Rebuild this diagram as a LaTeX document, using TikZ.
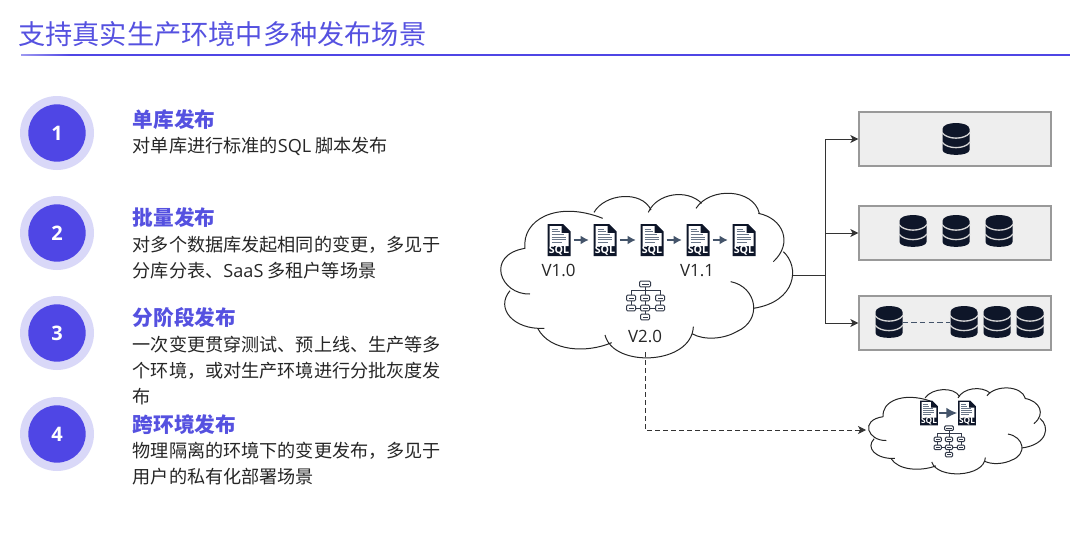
\documentclass[tikz,border=0pt]{standalone}
\usepackage{fontspec}
\usetikzlibrary{arrows.meta}
\setmainfont{Noto Sans CJK SC}
\newfontfamily\lat{Open Sans}
\definecolor{indigo}{HTML}{4F46E5}
\definecolor{halo}{HTML}{D9D8F8}
\definecolor{titlec}{HTML}{5551E0}
\definecolor{bodyc}{HTML}{262626}
\definecolor{navy}{HTML}{0E1629}
\definecolor{slate}{HTML}{44546A}
\definecolor{boxfill}{HTML}{EEEEEE}
\definecolor{boxline}{HTML}{999999}
\definecolor{conn}{HTML}{333333}
\newcommand{\cloudshape}{%
  \draw[cloudline]
    (105,205) .. controls (95,120) and (200,60) .. (338,115)
    (312,97) .. controls (345,40) and (455,30) .. (483,90)
    (475,97) .. controls (500,40) and (590,25) .. (635,70)
    (618,85) .. controls (660,20) and (790,25) .. (808,100)
    (805,100) .. controls (880,115) and (910,190) .. (850,245)
    (880,215) .. controls (930,260) and (920,365) .. (790,385)
    (722,305) .. controls (800,320) and (820,420) .. (740,455)
    (745,452) .. controls (700,480) and (640,480) .. (608,462)
    (610,440) .. controls (605,555) and (370,565) .. (345,465)
    (365,488) .. controls (290,520) and (180,515) .. (143,445)
    (163,445) .. controls (70,450) and (15,385) .. (60,332)
    (120,342) .. controls (30,345) and (-15,225) .. (105,205);
}
\tikzset{
  x=0.75pt,y=-0.75pt,
  cloudline/.style={draw=black!85,line width=0.75pt},
  halodot/.style={circle,fill=halo,minimum size=55.5pt,inner sep=0},
  numdot/.style={circle,fill=indigo,minimum size=43pt,inner sep=0,text=white,font=\lat\bfseries\fontsize{15}{17}\selectfont},
  headtext/.style={anchor=west,inner sep=0,text=titlec,font=\bfseries\fontsize{15.5}{18}\selectfont},
  bodytext/.style={anchor=north west,inner sep=0,text=bodyc,align=left,font=\fontsize{13.6}{19.5}\selectfont},
  vlabel/.style={inner sep=0,text=black!85,font=\lat\fontsize{12.7}{14}\selectfont},
  dbbox/.style={draw=boxline,fill=boxfill,line width=1pt,minimum width=144pt,minimum height=40.5pt,inner sep=0},
  iconslot/.style={inner sep=0,minimum width=17pt,minimum height=24pt},
  miniicon/.style={inner sep=0,minimum width=13.5pt,minimum height=19pt},
  tree/.style={conn,line width=0.75pt,-{Stealth[inset=1.6pt,length=6pt,width=6pt]}},
  verstep/.style={slate,line width=1pt,-{Latex[length=6pt,width=6.5pt]},shorten >=3.5pt,shorten <=2.2pt},
  pics/sqlicon/.style={code={
    \fill[navy] (-11.5,-16)--(4,-16)--(11.5,-8.5)--(11.5,16)--(-11.5,16)--cycle;
    \fill[white] (-9.5,-14)--(2.5,-14)--(2.5,-7)--(9.5,-7)--(9.5,6)--(-9.5,6)--cycle;
    \foreach \yy/\xx in {-11/-1,-8.5/0.5,-5.5/5,-3/7,-0.5/7,2/3}
      \draw[slate!80,line width=0.75pt] (-7.5,\yy)--(\xx,\yy);
    \node[inner sep=0,text=white,transform shape,font=\lat\bfseries\fontsize{8}{8}\selectfont] at (0,11) {SQL};
  }},
  pics/dbicon/.style={code={
    \fill[navy] (-13.5,-10) .. controls (-13.5,-18) and (13.5,-18) .. (13.5,-10)
      -- (13.5,11) .. controls (13.5,17.5) and (-13.5,17.5) .. (-13.5,11) -- cycle;
    \draw[boxfill!90!black,line width=1pt] (-14,-6.5) .. controls (-9,1) and (9,1) .. (14,-6.5);
    \draw[boxfill!90!black,line width=1pt] (-14,3) .. controls (-9,10.5) and (9,10.5) .. (14,3);
  }},
  pics/orgicon/.style={code={
    \draw[navy!85,line width=0.75pt]
      (0,-13)--(0,-10) (-14,-10)--(15,-10) (-14,-10)--(-14,8) (0,-10)--(0,17) (15,-10)--(15,8) (-14,8)--(15,8);
    \foreach \xx/\yy/\ww in {0/-16/5,-14/-2/4,0/-2/4,15/-2/4,-14/8/4,0/8/4,15/8/4,0/17/4}{
      \draw[navy!85,fill=white,line width=0.75pt,rounded corners=0.8pt] (\xx-\ww-0.5,\yy-2.8) rectangle (\xx+\ww+0.5,\yy+2.8);
      \draw[navy!85,line width=0.75pt] (\xx-\ww+1.5,\yy)--(\xx+\ww-1.5,\yy);
    }
  }},
}
\begin{document}
\begin{tikzpicture}
\useasboundingbox (0,0) rectangle (1080,553);
% title
\node[anchor=west,inner sep=0,text=titlec,font=\fontsize{20.4}{24}\selectfont] (title) at (18,34) {支持真实生产环境中多种发布场景};
\fill[left color=indigo!55,right color=indigo] (21,54.3) rectangle (70,55.5);
\fill[indigo] (70,54.3) rectangle (1070,55.5);
% numbered steps
\foreach \i/\yy in {1/133,2/233,3/333,4/434}{
  \node[halodot] (halo\i) at (57,\yy) {};
  \node[numdot] (num\i) at (57,\yy) {\i};
}
\node[headtext] (h1) at (132.5,119.5) {单库发布};
\node[bodytext] (b1) at (132.5,137) {对单库进行标准的{\lat SQL} 脚本发布};
\node[headtext] (h2) at (132.5,217.5) {批量发布};
\node[bodytext] (b2) at (132.5,236) {对多个数据库发起相同的变更，多见于\\分库分表、{\lat SaaS} 多租户等场景};
\node[headtext] (h3) at (132.5,317.5) {分阶段发布};
\node[bodytext] (b3) at (132.5,336) {一次变更贯穿测试、预上线、生产等多\\个环境，或对生产环境进行分批灰度发\\布};
\node[headtext] (h4) at (132.5,424.5) {跨环境发布};
\node[bodytext] (b4) at (132.5,442) {物理隔离的环境下的变更发布，多见于\\用户的私有化部署场景};
% main cloud
\begin{scope}[shift={(490,180)},scale=1/3]
  \cloudshape
\end{scope}
\foreach \n/\xx in {s1/559,s2/605,s3/652,s4/698,s5/744}{
  \node[iconslot] (\n) at (\xx,240) {};
  \pic at (\n) {sqlicon};
}
\draw[verstep] (s1)--(s2);
\draw[verstep] (s2)--(s3);
\draw[verstep] (s3)--(s4);
\draw[verstep] (s4)--(s5);
\node[vlabel] (v10) at (558.5,270.5) {V1.0};
\node[vlabel] (v11) at (697,270.5) {V1.1};
\node[vlabel] (v20) at (645,336.5) {V2.0};
\node[iconslot] (org) at (645,300) {};
\pic at (org) {orgicon};
\coordinate (mainR) at (793,275);
\coordinate (mainB) at (645,352);
\coordinate (trunk) at (825,275);
% boxes
\node[dbbox] (box1) at (955,139) {};
\node[dbbox] (box2) at (955,233) {};
\node[dbbox] (box3) at (955,323) {};
\draw[conn,line width=0.75pt] (mainR)--(trunk);
\draw[tree] (trunk)|-(box1.west);
\draw[tree] (trunk)|-(box2.west);
\draw[tree] (trunk)|-(box3.west);
\pic at (956,139) {dbicon};
\pic at (913,231) {dbicon};
\pic at (956,231) {dbicon};
\pic at (999,231) {dbicon};
\node[inner sep=0,minimum width=20pt] (d1) at (889,322) {};
\node[inner sep=0,minimum width=20pt] (d2) at (964,322) {};
\draw[slate,line width=0.75pt,dash pattern=on 4pt off 2.5pt] (d1)--(d2);
\pic at (d1) {dbicon};
\pic at (d2) {dbicon};
\pic at (997,322) {dbicon};
\pic at (1030,322) {dbicon};
% small cloud
\begin{scope}[shift={(862,381)},xscale=0.2022,yscale=0.174]
  \cloudshape
\end{scope}
\coordinate (smallL) at (866,430);
\draw[conn,line width=0.75pt,dash pattern=on 3.5pt off 2.5pt,-{Stealth[inset=1.6pt,length=6pt,width=6pt]}] (mainB)|-(smallL);
\node[miniicon] (m1) at (929,413) {};
\node[miniicon] (m2) at (967,413) {};
\pic[scale=0.78,transform shape] at (m1) {sqlicon};
\pic[scale=0.78,transform shape] at (m2) {sqlicon};
\draw[slate,line width=1pt,-{Latex[length=8pt,width=8pt]},shorten >=0.5pt,shorten <=0.5pt] (m1)--(m2);
\node[iconslot] (org2) at (949,441) {};
\pic[scale=0.8,transform shape] at (org2) {orgicon};
\end{tikzpicture}
\end{document}
